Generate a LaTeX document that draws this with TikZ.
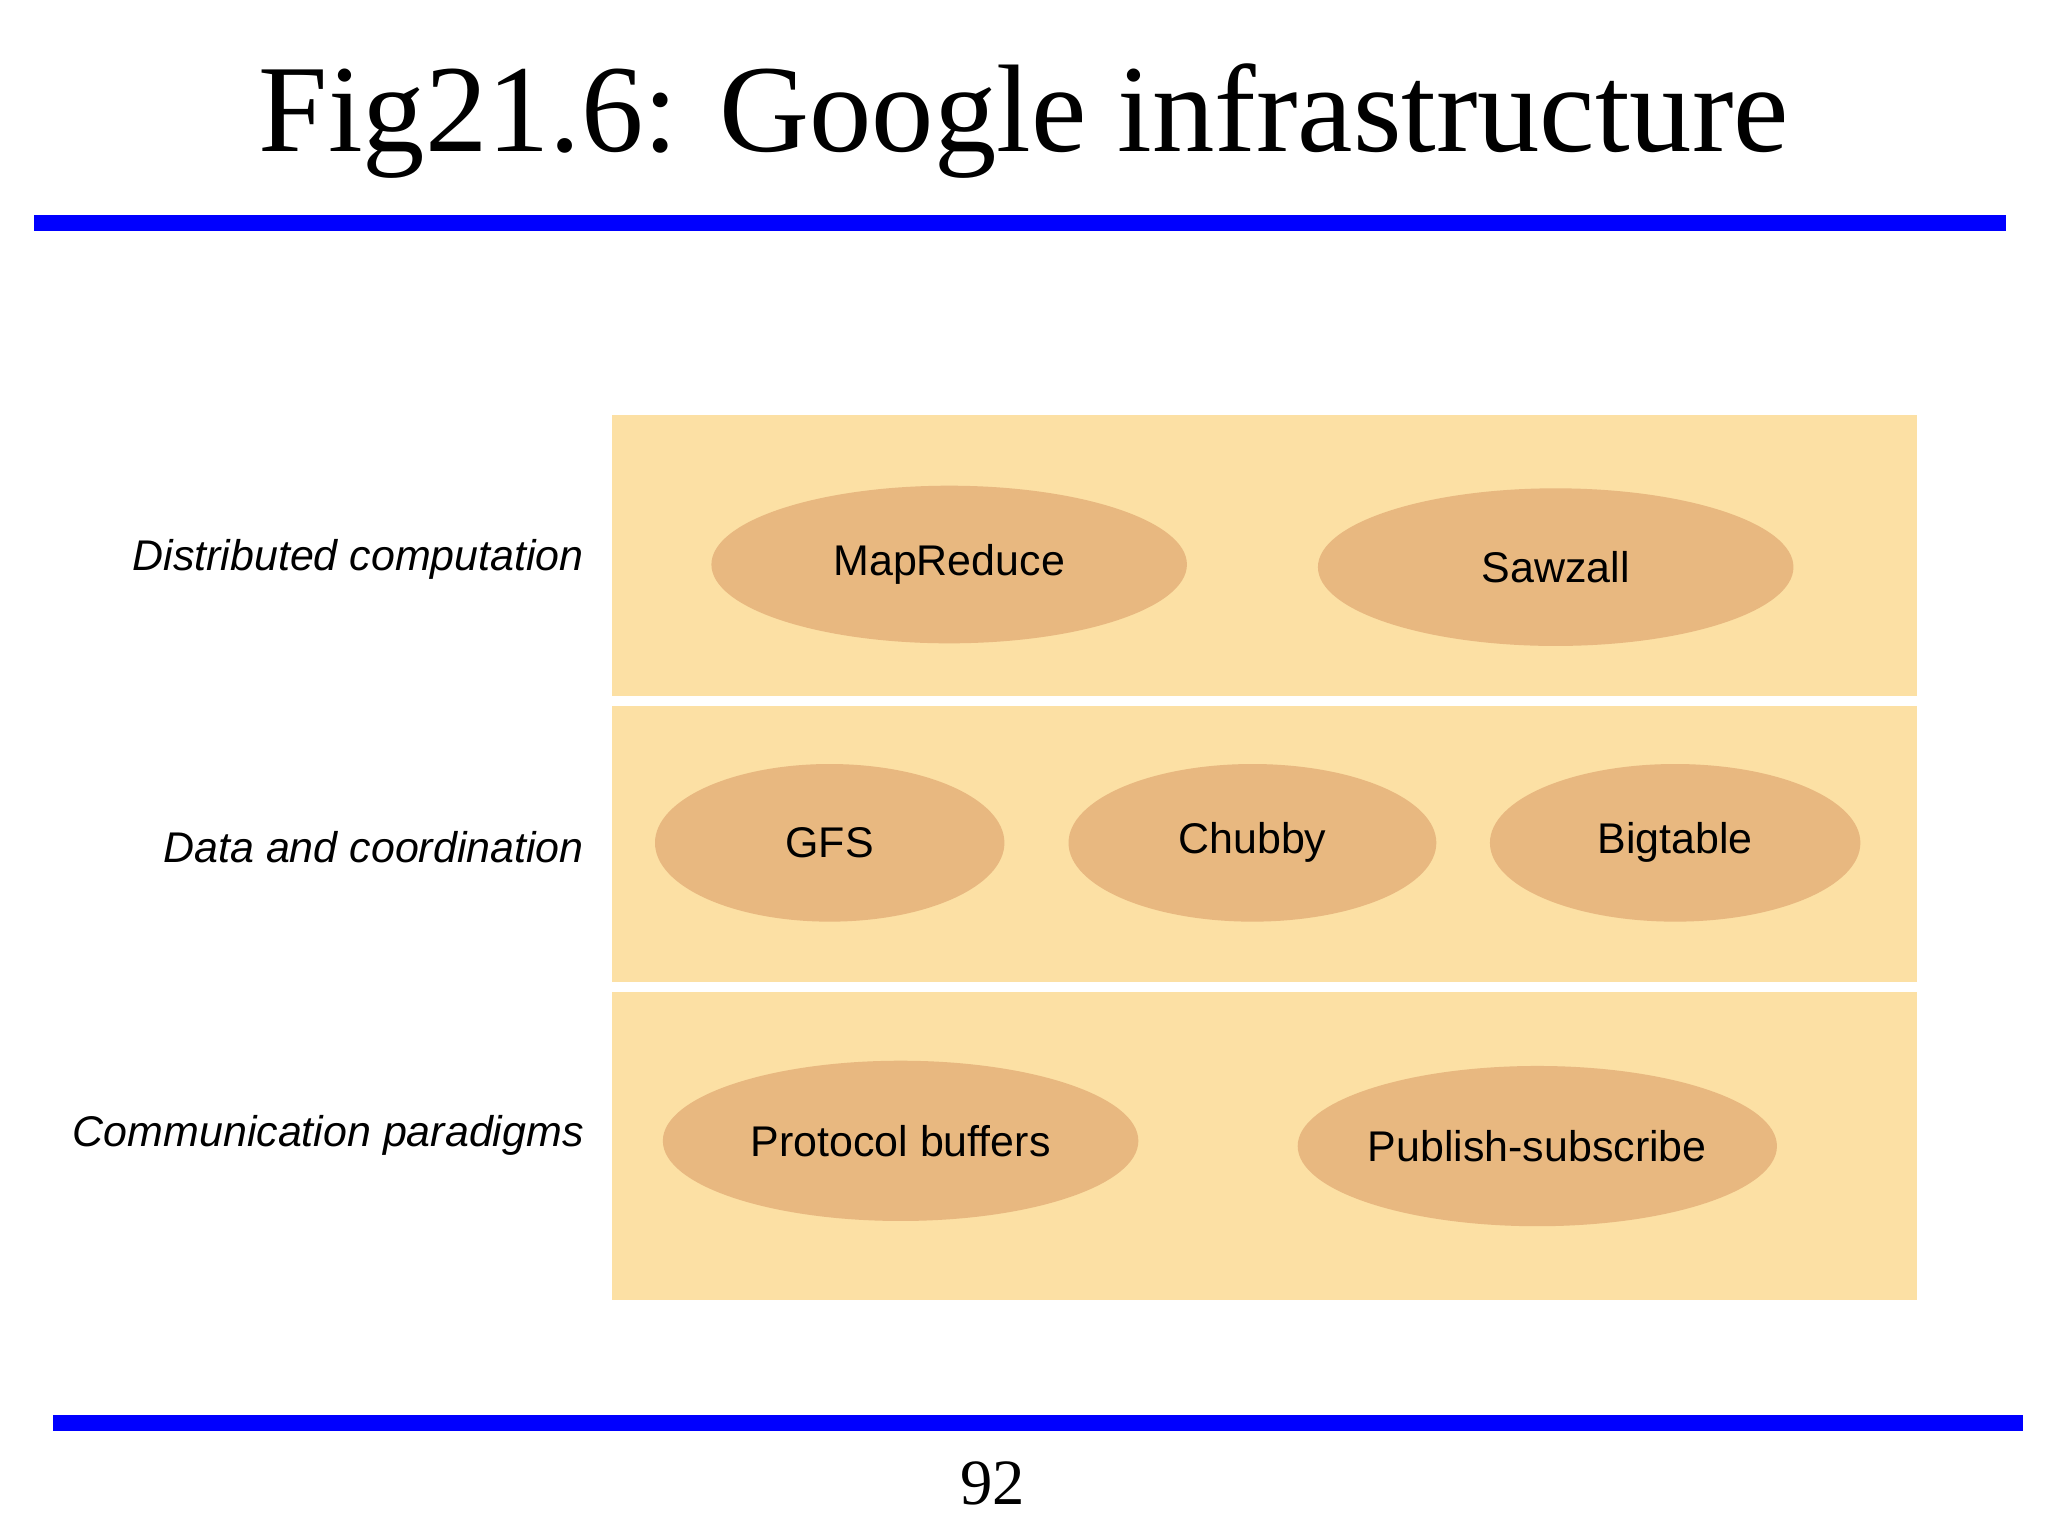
\documentclass[tikz,border=0pt]{standalone}
\usepackage{fontspec}
\setmainfont{Liberation Serif}
\newfontfamily\lsans{Liberation Sans}
\usetikzlibrary{shapes.geometric}
\definecolor{panel}{HTML}{FCE0A4}
\definecolor{oval}{HTML}{E8B880}
\definecolor{rule}{HTML}{0000FF}
\tikzset{
  panelbox/.style={fill=panel,draw=none},
  ovalnode/.style={ellipse,fill=oval,draw=none,inner sep=0pt,font=\lsans\fontsize{9.3}{11}\selectfont},
  layerlabel/.style={anchor=east,font=\lsans\itshape\fontsize{9.3}{11}\selectfont},
  bluerule/.style={fill=rule,draw=none}
}
\begin{document}
\begin{tikzpicture}[x=0.01cm,y=-0.01cm]
\useasboundingbox (0,0) rectangle (1560,1170);
\node (title) at (780,92) {\fontsize{27}{32}\selectfont Fig21.6: Google infrastructure};
\path[bluerule] (26,164) rectangle (1528,176);
\path[bluerule] (40,1078) rectangle (1541,1090);
\node (page) at (756,1130) {\fontsize{14}{16}\selectfont 92};
\path[panelbox] (466,316) rectangle (1460,530);
\path[panelbox] (466,538) rectangle (1460,748);
\path[panelbox] (466,756) rectangle (1460,990);
\node[layerlabel] (l1) at (457,426) {Distributed computation};
\node[layerlabel] (l2) at (457,645) {Data and coordination};
\node[layerlabel] (l3) at (457,865) {Communication paradigms};
\node[ovalnode,minimum width=3.62cm,minimum height=1.2cm] (mr) at (723,430) {MapReduce};
\node[ovalnode,minimum width=3.62cm,minimum height=1.2cm] (sz) at (1185,432) {Sawzall};
\node[ovalnode,minimum width=2.66cm,minimum height=1.2cm] (gfs) at (632,642) {GFS};
\node[ovalnode,minimum width=2.8cm,minimum height=1.2cm] (ch) at (954,642) {Chubby};
\node[ovalnode,minimum width=2.82cm,minimum height=1.2cm] (bt) at (1276,642) {Bigtable};
\node[ovalnode,minimum width=3.62cm,minimum height=1.22cm] (pb) at (686,869) {Protocol buffers};
\node[ovalnode,minimum width=3.62cm,minimum height=1.22cm] (ps) at (1171,873) {Publish-subscribe};
\end{tikzpicture}
\end{document}
